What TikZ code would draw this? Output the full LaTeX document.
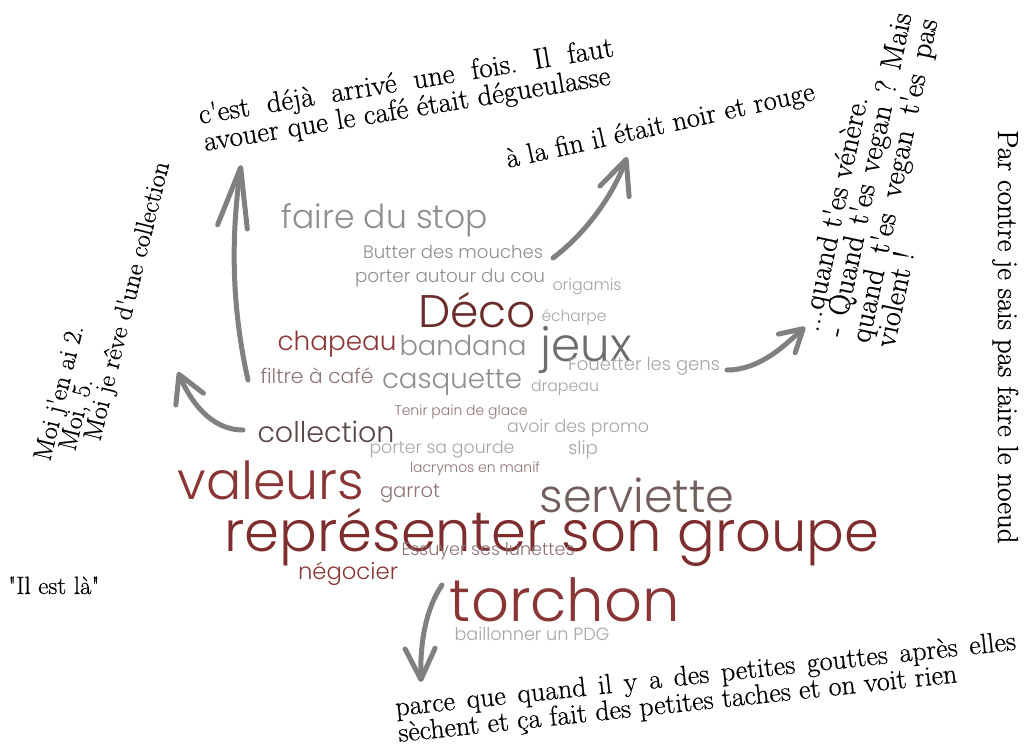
\documentclass[tikz,border=0pt]{standalone}
\usepackage{fontspec}
\newfontfamily\cloudfont{Poppins Light}
\newfontfamily\notefont{Latin Modern Roman}[FakeBold=0.5]
\usetikzlibrary{arrows.meta}
\definecolor{arrowgray}{HTML}{808080}
\definecolor{gA}{HTML}{8F8F8F}
\definecolor{gB}{HTML}{A6A6A6}
\definecolor{gC}{HTML}{6D6D6D}
\definecolor{gR}{HTML}{8E7373}
\definecolor{rA}{HTML}{6B2C2C}
\definecolor{rB}{HTML}{8A3636}
\definecolor{rC}{HTML}{7D2D2D}
\definecolor{bA}{HTML}{5A4545}
\definecolor{bB}{HTML}{725E5C}
\newcommand\cw[2]{\resizebox{#1pt}{!}{\cloudfont\fontsize{20}{24}\selectfont #2}}
\newcommand\ap{\textquotesingle}
\tikzset{
  cloudword/.style={inner sep=0pt, text=#1},
  note/.style={inner sep=0pt, anchor=base west, font=\notefont\frenchspacing\fontsize{#1}{#1}\selectfont},
  note/.default=29,
  connector/.style={draw=arrowgray, line width=5pt, line cap=round, line join=round},
}
\begin{document}
\begin{tikzpicture}[x=1pt,y=-1pt]
\useasboundingbox (0,0) rectangle (1024,744);
\fill[white] (0,0) rectangle (1024,744);

% word cloud
\node[cloudword=gA] (w1) at (385,220) {\cw{206}{faire du stop}};
\node[cloudword=gA] (w2) at (453,252) {\cw{180}{Butter des mouches}};
\node[cloudword=gA] (w3) at (450,278) {\cw{190}{porter autour du cou}};
\node[cloudword=gB] (w4) at (587,287) {\cw{69}{origamis}};
\node[cloudword=rA] (w5) at (477,310) {\cw{118}{Déco}};
\node[cloudword=gB] (w6) at (574,318) {\cw{65}{écharpe}};
\node[cloudword=rB] (w7) at (337,344) {\cw{119}{chapeau}};
\node[cloudword=gA] (w8) at (463,345) {\cw{127}{bandana}};
\node[cloudword=gC] (w9) at (586,350) {\cw{91}{jeux}};
\node[cloudword=gB] (w10) at (644,366) {\cw{152}{Fouetter les gens}};
\node[cloudword=gR] (w11) at (317,376) {\cw{113}{filtre à café}};
\node[cloudword=gA] (w12) at (452,383) {\cw{140}{casquette}};
\node[cloudword=gB] (w13) at (565,388) {\cw{68}{drapeau}};
\node[cloudword=gR] (w14) at (461,412) {\cw{133}{Tenir pain de glace}};
\node[cloudword=bA] (w15) at (326,432) {\cw{137}{collection}};
\node[cloudword=gB] (w16) at (578,428) {\cw{142}{avoir des promo}};
\node[cloudword=gB] (w17) at (442,449) {\cw{145}{porter sa gourde}};
\node[cloudword=gB] (w18) at (583,450) {\cw{30}{slip}};
\node[cloudword=gR] (w19) at (475,469) {\cw{130}{lacrymos en manif}};
\node[cloudword=rB] (w20) at (271,480) {\cw{187}{valeurs}};
\node[cloudword=gR] (w21) at (410,493) {\cw{60}{garrot}};
\node[cloudword=bB] (w22) at (637,495) {\cw{195}{serviette}};
\node[cloudword=rC] (w23) at (552,537) {\cw{655}{représenter son groupe}};
\node[cloudword=gR] (w24) at (488,551) {\cw{173}{Essuyer ses lunettes}};
\node[cloudword=rB] (w25) at (348,574) {\cw{100}{négocier}};
\node[cloudword=rB] (w26) at (565,600) {\cw{230}{torchon}};
\node[cloudword=gB] (w27) at (532,634) {\cw{155}{baillonner un PDG}};

% notes
\node[note, rotate=9.3] (a1) at (200,124) {\makebox[420pt][s]{c\ap est déjà arrivé une fois. Il faut}};
\node[note, rotate=9.3] (a2) at (205,151) {avouer que le café était dégueulasse};
\node[note=28.3, rotate=12.5] (b1) at (508,168) {à la fin il était noir et rouge};
\node[note=30, rotate=78] (c1) at (818,333) {...quand t\ap es vénère.};
\node[note=30, rotate=78] (c2) at (843,338) {\makebox[330pt][s]{- Quand t\ap es vegan ? Mais}};
\node[note=30, rotate=78] (c3) at (869,344) {\makebox[330pt][s]{quand t\ap es vegan t\ap es pas}};
\node[note=30, rotate=78] (c4) at (894,349) {violent !};
\node[note=26, rotate=76] (d1) at (50,462) {Moi j\ap en ai 2.};
\node[note=26, rotate=76] (d2) at (75,452) {Moi, 5.};
\node[note=26, rotate=76] (d3) at (100,442) {Moi je rêve d\ap une collection};
\node[note=29, rotate=-90] (e1) at (998,130) {Par contre je sais pas faire le noeud};
\node[note=25] (f1) at (8,594) {\textquotedbl Il est là\textquotedbl};
\node[note=28, rotate=6.1] (g1) at (396,716) {\makebox[624pt][s]{parce que quand il y a des petites gouttes après elles}};
\node[note=28, rotate=6.1] (g2) at (399,742) {sèchent et ça fait des petites taches et on voit rien};

% connector ends
\coordinate (s1) at (248,380); \coordinate (t1) at (241,165);
\coordinate (s2) at (243,430); \coordinate (t2) at (178,372);
\coordinate (s3) at (553,258); \coordinate (t3) at (627,157);
\coordinate (s4) at (727,370); \coordinate (t4) at (805,327);
\coordinate (s5) at (442,585); \coordinate (t5) at (421,682);

\draw[connector, -{Straight Barb[length=60pt,width=30pt,round]}] (s1) .. controls (230,300) and (232,230) .. (t1);
\draw[connector, -{Straight Barb[length=27pt,width=30pt,round]}] (s2) .. controls (210,430) and (190,400) .. (t2);
\draw[connector, -{Straight Barb[length=34pt,width=31pt,round]}] (s3) .. controls (590,230) and (615,190) .. (t3);
\draw[connector, -{Straight Barb[length=22pt,width=25pt,round]}] (s4) .. controls (760,370) and (785,345) .. (t4);
\draw[connector, -{Straight Barb[length=31pt,width=30pt,round]}] (s5) .. controls (425,610) and (420,645) .. (t5);
\end{tikzpicture}
\end{document}
